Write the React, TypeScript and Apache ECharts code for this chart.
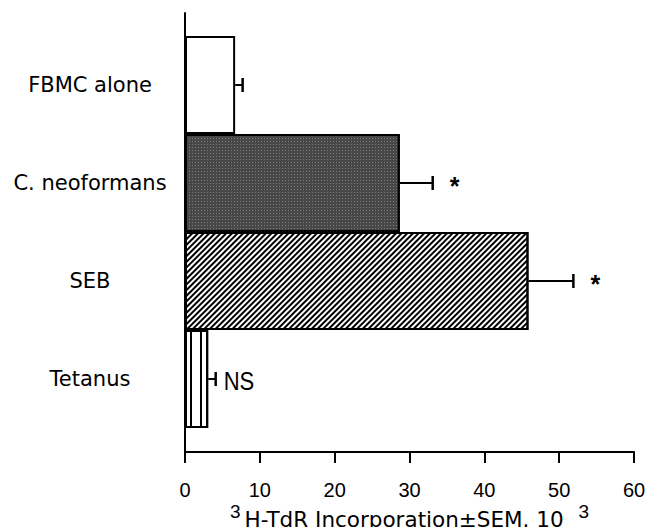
import React, { useEffect, useRef } from "react";
import * as echarts from "echarts";

const categories = ["FBMC alone", "C. neoformans", "SEB", "Tetanus"];
const means = [6.7, 28.7, 45.9, 3.1];
const sems = [1.0, 4.4, 6.0, 1.0];
const marks = ["", "*", "*", "NS"];
const xMin = 0;
const xMax = 60;
const xInterval = 10;

const LABEL_FONT = "DejaVu Sans";
const TICK_FONT = "Liberation Sans";

const barStyles = [
  { color: "#ffffff" },
  {
    color: "#474747",
    decal: {
      symbol: "rect",
      symbolSize: 1,
      dashArrayX: [1, 2],
      dashArrayY: [1, 2],
      color: "rgba(255,255,255,0.3)",
    },
  },
  {
    color: "#ffffff",
    decal: {
      symbol: "rect",
      symbolSize: 1,
      dashArrayX: [1, 0],
      dashArrayY: [1.8, 1.5],
      rotation: -Math.PI / 4,
      color: "#000000",
    },
  },
  {
    color: "#ffffff",
    decal: {
      symbol: "rect",
      symbolSize: 1,
      dashArrayX: [1.5, 7.5],
      dashArrayY: [1, 0],
      color: "#000000",
    },
  },
];

export default function App() {
  const ref = useRef<HTMLDivElement>(null);
  useEffect(() => {
    if (!ref.current) return;
    const chart = echarts.init(ref.current, undefined, { renderer: "svg" });
    const barData = means.map((v, i) => ({
      value: v,
      itemStyle: { ...barStyles[i], borderColor: "#000", borderWidth: 2 },
    }));
    const errData = means.map((v, i) => [v, i, v + sems[i]]);
    chart.setOption({
      animation: false,
      backgroundColor: "#fff",
      grid: [
        { left: 185, width: 449, top: 36, height: 392, outerBoundsMode: "none", containLabel: false },
        { left: 185, width: 449, top: 13, height: 439, outerBoundsMode: "none", containLabel: false },
      ],
      xAxis: [
        { gridIndex: 0, type: "value", min: xMin, max: xMax, show: false },
        {
          gridIndex: 1,
          type: "value",
          min: xMin,
          max: xMax,
          interval: xInterval,
          axisLine: { show: true, lineStyle: { color: "#000", width: 2 } },
          axisTick: { show: true, inside: false, length: 11, lineStyle: { color: "#000", width: 2 } },
          axisLabel: { color: "#000", fontSize: 20, fontFamily: TICK_FONT, margin: 28 },
          splitLine: { show: false },
          name: "{sup|3}{main|H-TdR Incorporation±SEM. 10 }{sup2|3}",
          nameLocation: "middle",
          nameGap: 50,
          nameMoveOverlap: false,
          nameTextStyle: {
            rich: {
              sup: { fontSize: 19, fontFamily: TICK_FONT, color: "#000", lineHeight: 10, verticalAlign: "top", padding: [0, 4, 0, 0] },
              sup2: { fontSize: 19, fontFamily: TICK_FONT, color: "#000", lineHeight: 10, verticalAlign: "top", padding: [0, 0, 0, 8] },
              main: { fontSize: 21.5, fontFamily: LABEL_FONT, color: "#000", lineHeight: 34 },
            },
          },
        },
      ],
      yAxis: [
        {
          gridIndex: 0,
          type: "category",
          inverse: true,
          data: categories,
          axisLine: { show: false },
          axisTick: { show: false },
          axisLabel: { color: "#000", fontSize: 21, fontFamily: LABEL_FONT, align: "center", margin: 95 },
        },
        {
          gridIndex: 1,
          type: "value",
          min: 0,
          max: 1,
          axisLine: { show: true, lineStyle: { color: "#000", width: 2 } },
          axisTick: { show: false },
          axisLabel: { show: false },
          splitLine: { show: false },
        },
      ],
      series: [
        {
          type: "bar",
          xAxisIndex: 0,
          yAxisIndex: 0,
          barCategoryGap: "0%",
          data: barData,
        },
        {
          type: "custom",
          xAxisIndex: 0,
          yAxisIndex: 0,
          encode: { x: [0, 2], y: 1 },
          data: errData,
          renderItem: (params: any, api: any) => {
            const idx = api.value(1);
            const s = api.coord([api.value(0), idx]);
            const e = api.coord([api.value(2), idx]);
            const children: any[] = [
              { type: "line", shape: { x1: s[0], y1: s[1], x2: e[0], y2: e[1] }, style: { stroke: "#000", lineWidth: 2 } },
              { type: "line", shape: { x1: e[0], y1: e[1] - 7, x2: e[0], y2: e[1] + 7 }, style: { stroke: "#000", lineWidth: 2.5 } },
            ];
            const m = marks[idx];
            if (m === "*") {
              children.push({
                type: "text",
                x: e[0] + 22,
                y: e[1] + 3,
                style: { text: "*", fontSize: 25, fontWeight: "bold", fontFamily: TICK_FONT, fill: "#000", textAlign: "center", textVerticalAlign: "middle" },
              });
            } else if (m) {
              children.push({
                type: "text",
                x: e[0] + 8,
                y: e[1] + 3,
                scaleX: 0.88,
                style: { text: m, fontSize: 25, fontFamily: TICK_FONT, fill: "#000", textAlign: "left", textVerticalAlign: "middle" },
              });
            }
            return { type: "group", children };
          },
        },
      ],
    });
    return () => chart.dispose();
  }, []);
  return (
    <div
      ref={ref}
      style={{ position: "fixed", left: 0, top: 0, width: 648, height: 527, background: "#fff" }}
    />
  );
}
